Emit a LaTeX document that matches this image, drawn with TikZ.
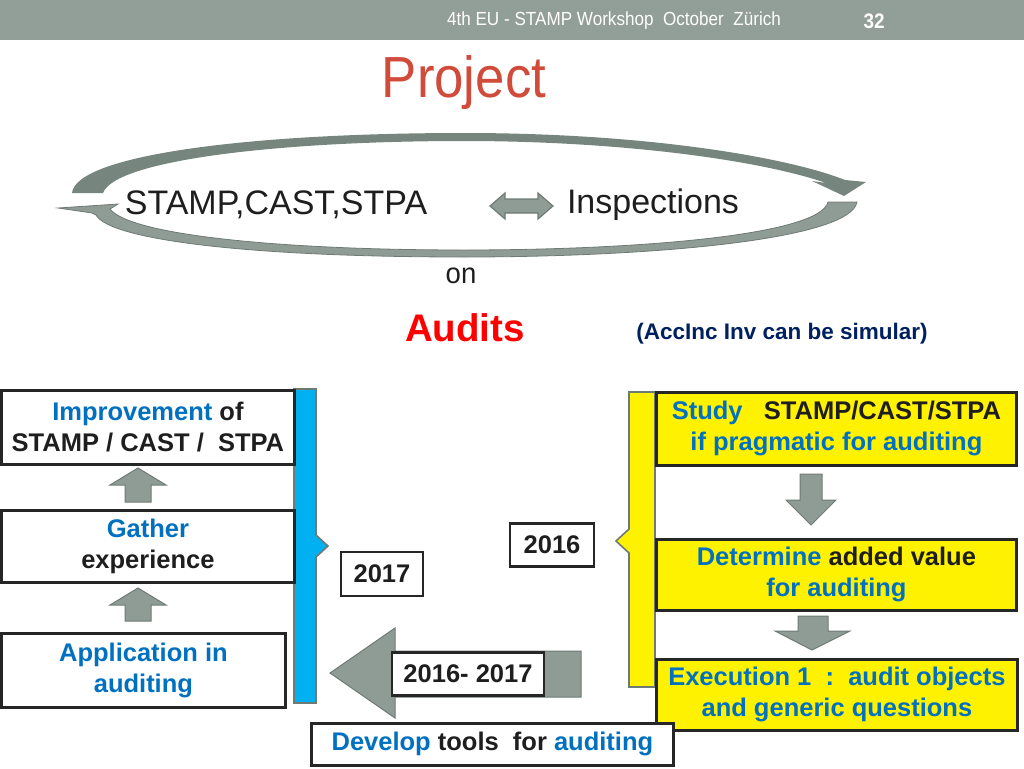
\documentclass[tikz,border=0pt]{standalone}
\usepackage{fontspec}
\setmainfont{Liberation Sans}
\definecolor{hdr}{HTML}{929E98}
\definecolor{ttl}{HTML}{D04B3A}
\definecolor{arrg}{HTML}{8E9C95}
\definecolor{arrd}{HTML}{6E7B75}
\definecolor{bandd}{HTML}{76857E}
\definecolor{ofblue}{HTML}{0070C0}
\definecolor{txtk}{HTML}{1E1E1E}
\definecolor{cyanbar}{HTML}{00B0F0}
\definecolor{navy}{HTML}{002060}
\definecolor{bordk}{HTML}{262626}
\begin{document}
\begin{tikzpicture}[x=1pt,y=-1pt,
  boxtxt/.style={font=\fontsize{25.5}{31}\selectfont\bfseries, text=txtk, align=center, inner sep=0pt},
  whitebox/.style={draw=bordk, line width=2.8pt, fill=white, anchor=north west, inner sep=0pt},
  yellowbox/.style={draw=bordk, line width=2.8pt, fill=yellow, anchor=north west, inner sep=0pt},
  yearbox/.style={draw=bordk, line width=2.2pt, fill=white, inner sep=0pt},
  blockarrow/.style={fill=arrg, draw=arrd, line width=1pt, line join=miter}
]
\useasboundingbox (0,0) rectangle (1024,768);
% header
\fill[hdr] (0,0) rectangle (1024,40);
\node[text=white, font=\fontsize{19}{19}\selectfont, xscale=0.9] (hdrtxt) at (614,21) {4th EU - STAMP Workshop\ \ October\ \ Zürich};
\node[text=white, font=\fontsize{21}{21}\selectfont\bfseries, xscale=0.9] (pagenum) at (874,21) {32};
% title
\node[text=ttl, font=\fontsize{58}{58}\selectfont, xscale=0.91] (title) at (464,83) {Project};
% cycle bands
\fill[bandd] (72,193) .. controls (76,155) and (250,133) .. (464,133)
  .. controls (650,133) and (790,158) .. (845,180)
  -- (866,182) -- (844,196) -- (812,181) -- (826,183)
  .. controls (760,160) and (620,141) .. (464,141)
  .. controls (280,141) and (115,160) .. (103,193) -- cycle;
\fill[arrg, draw=arrd, line width=0.8pt] (857,202) .. controls (850,240) and (650,257) .. (464,257)
  .. controls (250,257) and (110,240) .. (96,215)
  -- (92,213) -- (58,208) -- (118,204) -- (110,209)
  .. controls (130,235) and (280,250) .. (464,250)
  .. controls (640,250) and (820,235) .. (828,202) -- cycle;
\node[font=\fontsize{34}{34}\selectfont, text=txtk] (stamp) at (276,205) {STAMP,CAST,STPA};
\node[font=\fontsize{34}{34}\selectfont, text=txtk] (insp) at (653,205) {Inspections};
\fill[arrg, draw=arrd, line width=1.2pt] (490,206) -- (505,193) -- (505,199) -- (538,199) -- (538,193) -- (553,206)
  -- (538,219) -- (538,213) -- (505,213) -- (505,219) -- cycle;
\node[font=\fontsize{29}{29}\selectfont, text=txtk, xscale=0.95] (on) at (461,276) {on};
\node[font=\fontsize{38.5}{38.5}\selectfont\bfseries, text=red] (audits) at (465,328) {Audits};
\node[font=\fontsize{22.5}{22.5}\selectfont\bfseries, text=navy] (accinc) at (782,334) {(AccInc Inv can be simular)};
% side bars
\filldraw[fill=cyanbar, draw=arrd, line width=1.6pt] (294,389) -- (316,389) -- (316,535) -- (328,546) -- (316,557) -- (316,703) -- (294,703) -- cycle;
\filldraw[fill=yellow, draw=arrd, line width=1.6pt] (629,392) -- (655,392) -- (655,687) -- (629,687) -- (629,553) -- (616,541) -- (629,529) -- cycle;
% big left arrow
\draw[blockarrow] (330,673) -- (395,628) -- (395,651) -- (581,651) -- (581,697) -- (395,697) -- (395,718) -- cycle;
% left boxes
\node[whitebox, minimum width=293pt, minimum height=74pt] (impr) at (0,389) {};
\node[boxtxt] (imprtxt) at (impr.center) {\textcolor{ofblue}{Improvement} of\\STAMP / CAST /\ \ STPA};
\node[whitebox, minimum width=293pt, minimum height=72pt] (gath) at (0,509) {};
\node[boxtxt] (gathtxt) at (gath.center) {\textcolor{ofblue}{Gather}\\experience};
\node[whitebox, minimum width=284pt, minimum height=74pt] (appl) at (0,632) {};
\node[boxtxt, text=ofblue] (appltxt) at (appl.center) {Application in\\auditing};
% up arrows
\draw[blockarrow] (138,468) -- (166,485) -- (151,485) -- (151,502) -- (125,502) -- (125,485) -- (110,485) -- cycle;
\draw[blockarrow] (138,588) -- (166,605) -- (151,605) -- (151,621) -- (125,621) -- (125,605) -- (110,605) -- cycle;
% right boxes
\node[yellowbox, minimum width=360pt, minimum height=73pt] (study) at (655,391) {};
\node[boxtxt] (studytxt) at (study.center) {\textcolor{ofblue}{Study}\ \ \ STAMP/CAST/STPA\\\textcolor{ofblue}{if pragmatic for auditing}};
\node[yellowbox, minimum width=360pt, minimum height=71pt] (determ) at (655,538) {};
\node[boxtxt] (determtxt) at (determ.center) {\textcolor{ofblue}{Determine} added value\\\textcolor{ofblue}{for auditing}};
\node[yellowbox, minimum width=361pt, minimum height=71pt] (exec) at (655,658) {};
\node[boxtxt, text=ofblue] (exectxt) at (exec.center) {Execution 1\ \ :\ \ audit objects\\and generic questions};
% down arrows
\draw[blockarrow] (800,474) -- (822,474) -- (822,500) -- (836,500) -- (811,525) -- (786,500) -- (800,500) -- cycle;
\draw[blockarrow] (798,616) -- (828,616) -- (828,631) -- (850,631) -- (812,650) -- (775,631) -- (798,631) -- cycle;
% year boxes
\node[yearbox, minimum width=82pt, minimum height=44pt, boxtxt] (y2017) at (382,574) {2017};
\node[yearbox, minimum width=84pt, minimum height=43pt, boxtxt] (y2016) at (552,545) {2016};
\node[yearbox, minimum width=152pt, minimum height=43pt, boxtxt] (y1617) at (468,674) {2016- 2017};
% develop box
\node[whitebox, minimum width=362pt, minimum height=42pt] (devel) at (310,722) {};
\node[boxtxt] (develtxt) at (devel.center) {\textcolor{ofblue}{Develop} tools\ \ for \textcolor{ofblue}{auditing}};
\end{tikzpicture}
\end{document}
